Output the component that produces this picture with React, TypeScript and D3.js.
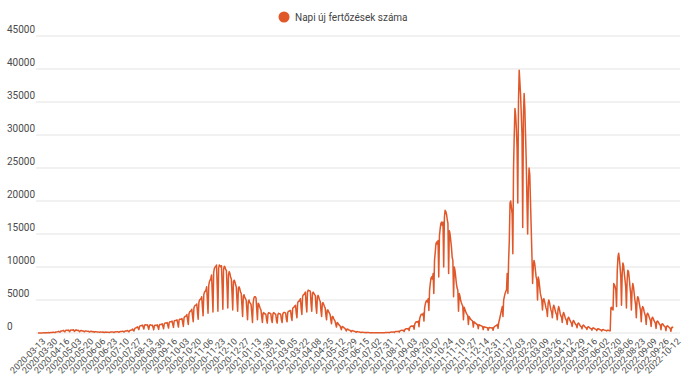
import * as d3 from 'd3';

// napi új fertőzések, 2020-03-13 -> 2020-12-31
const cases2020 = [
  3, 7, 5, 9, 11, 15, 18,
  22, 30, 23, 12, 36, 40, 38,
  45, 60, 35, 40, 70, 78, 70,
  100, 110, 80, 60, 140, 160, 170,
  200, 250, 180, 120, 260, 300, 320,
  350, 400, 250, 180, 380, 420, 400,
  380, 450, 300, 200, 420, 470, 430,
  450, 500, 320, 250, 420, 480, 400,
  380, 420, 300, 200, 350, 380, 340,
  300, 320, 250, 180, 300, 320, 280,
  250, 270, 200, 150, 240, 260, 230,
  200, 220, 170, 120, 190, 210, 180,
  160, 170, 130, 100, 150, 160, 140,
  130, 140, 110, 80, 130, 140, 120,
  120, 130, 100, 80, 130, 150, 140,
  150, 170, 120, 90, 160, 180, 170,
  190, 210, 150, 110, 200, 230, 220,
  250, 280, 200, 140, 270, 300, 290,
  330, 380, 260, 180, 370, 420, 410,
  500, 600, 400, 300, 650, 750, 780,
  850, 950, 700, 500, 1000, 1100, 1100,
  1150, 1200, 900, 600, 1200, 1250, 1200,
  1200, 1250, 900, 550, 1150, 1250, 1200,
  1150, 1200, 850, 500, 1100, 1200, 1150,
  1150, 1250, 900, 550, 1200, 1300, 1300,
  1300, 1400, 1000, 650, 1400, 1500, 1500,
  1500, 1600, 1150, 750, 1600, 1700, 1700,
  1700, 1800, 1300, 850, 1800, 1900, 1900,
  1900, 2000, 1500, 900, 2000, 2100, 2100,
  2100, 2200, 1600, 1000, 2300, 2500, 2500,
  2600, 2800, 2000, 1300, 2900, 3200, 3300,
  3400, 3600, 2600, 1700, 3800, 4100, 4200,
  4200, 4400, 3200, 2100, 4600, 5000, 5100,
  5200, 5500, 4000, 2600, 5800, 6200, 6300,
  6500, 7000, 5000, 3000, 7200, 7800, 8000,
  8300, 8800, 6000, 3200, 9200, 9800, 10000,
  10100, 10300, 7000, 3300, 9800, 10300, 10200,
  10000, 10200, 7200, 3600, 9700, 10100, 10000,
  9600, 9500, 6800, 3800, 8800, 9300, 9000,
  8500, 8200, 6000, 3500, 7800, 8000, 7800,
  7300, 7000, 5000, 3300, 6800, 7000, 6700,
  6200, 6000, 4200, 2500, 5600, 5800, 5400,
];

// 2021 (a nyári hiányzó napok nélkül)
const cases2021 = [
  5200, 5000, 3500, 2000, 4700, 5000, 4600,
  4500, 4300, 3000, 1600, 4600, 5300, 5500,
  5500, 5300, 3600, 2000, 4500, 4400, 4000,
  3700, 3500, 2500, 1600, 3000, 3100, 2900,
  2900, 2800, 2000, 1500, 2900, 3100, 3000,
  3000, 2900, 2000, 1600, 2900, 3100, 3000,
  2900, 2800, 1900, 1500, 2800, 3000, 2900,
  2900, 2800, 2000, 1600, 2900, 3100, 3100,
  3100, 3000, 2100, 1700, 3100, 3300, 3300,
  3400, 3400, 2400, 1900, 3700, 3900, 3900,
  4100, 4200, 3000, 2300, 4500, 4800, 4800,
  5000, 5200, 3700, 2800, 5500, 5800, 5800,
  6000, 6200, 4300, 3200, 6200, 6500, 6400,
  6400, 6300, 4400, 3300, 6000, 6200, 6000,
  5800, 5700, 4000, 3000, 5500, 5700, 5400,
  5000, 4800, 3400, 2500, 4500, 4600, 4300,
  4000, 3800, 2700, 2000, 3500, 3500, 3200,
  3000, 2800, 2000, 1400, 2500, 2500, 2200,
  2000, 1800, 1300, 900, 1600, 1500, 1300,
  1200, 1100, 800, 500, 1000, 950, 850,
  750, 700, 500, 300, 600, 580, 500,
  450, 420, 300, 180, 380, 350, 300,
  280, 250, 180, 100, 220, 200, 170,
  150, 140, 100, 60, 130, 120, 100,
  90, 80, 60, 40, 80, 75, 70,
  60, 55, 40, 25, 55, 50, 50,
  45, 20, 40, 45, 40, 38, 35,
  35, 18, 40, 45, 50, 48, 45,
  50, 25, 60, 70, 80, 80, 75,
  90, 45, 110, 130, 140, 140, 130,
  160, 80, 190, 220, 240, 240, 230,
  260, 130, 320, 370, 400, 400, 380,
  430, 220, 530, 600, 650, 650, 620,
  700, 360, 850, 980, 1050, 1050, 1000,
  1100, 580, 1350, 1550, 1700, 1700, 1650,
  1800, 950, 2200, 2550, 2800, 2850, 2750,
  3000, 1800, 3800, 4400, 4800, 4900, 4700,
  5200, 3400, 6500, 7500, 8300, 8500, 8200,
  9000, 6000, 11000, 12200, 13500, 13800, 13500,
  14000, 8500, 14800, 15800, 16600, 16800, 16300,
  16800, 10000, 17500, 18600, 18400, 18000, 17200,
  16600, 9000, 15500, 15000, 14000, 13000, 11500,
  11000, 5500, 10000, 9500, 8500, 7500, 6800,
  6500, 3300, 6000, 5600, 5000, 4600, 4300,
  4100, 2000, 3900, 3600, 3300, 3000, 2800,
  2700, 1300, 2500, 2300, 2100, 2000, 1900,
  1800, 900, 1700, 1600, 1500, 1400, 1300,
  1300, 650, 1250, 1200, 1150, 1100, 1050,
  1000, 500, 950, 900, 880, 850, 820,
  800, 400, 800, 820, 800, 780, 760,
  780, 420, 850,
];

// 2022 -> 2022-10-12
const cases2022 = [
  950, 1050, 1100, 1150,
  1300, 700, 1600, 2000, 2500, 3000, 3500,
  4000, 2500, 5000, 5500, 6000, 6300, 6500,
  9000, 6000, 11000, 14000, 19700, 20000, 19000,
  18000, 12000, 25000, 30000, 34000, 33000, 31000,
  28000, 19700, 35000, 39800, 38000, 36000, 33000,
  30000, 16000, 33000, 36300, 34000, 30000, 26000,
  20000, 15000, 22000, 25000, 24000, 20000, 16000,
  12000, 7500, 10000, 11000, 10500, 9500, 8500,
  8000, 5000, 8500, 8000, 7000, 6000, 5500,
  5000, 3500, 5000, 5200, 4800, 4300, 3800,
  3500, 2500, 4500, 5000, 4600, 4000, 3500,
  3200, 2300, 3800, 4200, 3900, 3400, 3000,
  2800, 2000, 3500, 4000, 3600, 3000, 2600,
  2400, 1600, 2800, 3100, 2800, 2400, 2100,
  1900, 1300, 2200, 2400, 2200, 1900, 1700,
  1500, 1000, 1700, 1900, 1700, 1500, 1300,
  1200, 800, 1400, 1500, 1400, 1200, 1000,
  950, 650, 1100, 1200, 1100, 950, 850,
  780, 520, 900, 950, 880, 780, 700,
  650, 420, 720, 780, 720, 640, 580,
  540, 350, 600, 640, 600, 530, 480,
  450, 300, 500, 520, 480, 430, 400,
  380, 300, 420, 400, 380, 350, 330,
  3800, 3900, 3600, 3500, 7500, 7300, 7000,
  6500, 4000, 9500, 11500, 12100, 11200, 10000,
  8500, 4200, 9000, 10600, 10200, 9000, 8000,
  7000, 3800, 8000, 9500, 9300, 8300, 7000,
  6000, 3500, 6500, 7500, 7000, 6000, 5000,
  4300, 2300, 4800, 5500, 5300, 4600, 4000,
  3400, 1700, 3600, 4000, 3800, 3300, 2900,
  2500, 1300, 2800, 3000, 2800, 2500, 2200,
  1900, 1000, 2200, 2400, 2200, 1900, 1700,
  1500, 700, 1700, 1800, 1700, 1500, 1300,
  1200, 500, 1300, 1400, 1300, 1100, 1000,
  900, 350, 1000, 1100, 1000, 900, 800,
  700, 250, 800, 900, 750,
];

const tickLabels = [
  '2020-03-13', '2020-03-30', '2020-04-16', '2020-05-03', '2020-05-20', '2020-06-06',
  '2020-06-23', '2020-07-10', '2020-07-27', '2020-08-13', '2020-08-30', '2020-09-16',
  '2020-10-03', '2020-10-20', '2020-11-06', '2020-11-23', '2020-12-10', '2020-12-27',
  '2021-01-13', '2021-01-30', '2021-02-16', '2021-03-05', '2021-03-22', '2021-04-08',
  '2021-04-25', '2021-05-12', '2021-05-29', '2021-06-15', '2021-07-02', '2021-07-31',
  '2021-08-17', '2021-09-03', '2021-09-20', '2021-10-07', '2021-10-24', '2021-11-10',
  '2021-11-27', '2021-12-14', '2021-12-31', '2022-01-17', '2022-02-03', '2022-02-20',
  '2022-03-09', '2022-03-26', '2022-04-12', '2022-04-29', '2022-05-16', '2022-06-02',
  '2022-07-20', '2022-08-06', '2022-08-23', '2022-09-09', '2022-09-26', '2022-10-12',
];

const yTicks = [0, 5000, 10000, 15000, 20000, 25000, 30000, 35000, 40000, 45000];

const seriesName = 'Napi új fertőzések száma';
const LABEL_STEP = 17;

const dailyCases = [...cases2020, ...cases2021, ...cases2022];

export default function App() {
  const width = 685;
  const height = 385;
  const color = '#e0582a';
  const font = 'Roboto, Arial, sans-serif';

  const x = d3.scaleLinear().domain([0, dailyCases.length - 1]).range([38, 673]);
  const y = d3.scaleLinear().domain([0, 45000]).range([333, 36]);

  const line = d3
    .line<number>()
    .x((_, i) => x(i))
    .y((d) => y(d));

  // minden 17. kategória kap címkét, az utolsó az utolsó nap
  const tickIdx = tickLabels.map((_, k) =>
    k === tickLabels.length - 1 ? dailyCases.length - 1 : k * LABEL_STEP
  );

  return (
    <svg
      width={width}
      height={height}
      style={{ position: 'absolute', left: 0, top: 0, background: '#fff' }}
    >
      {/* Legend */}
      <circle cx={284} cy={17} r={5.5} fill={color} />
      <text x={295} y={20.5} fontFamily={font} fontSize={10} fill="#444">
        {seriesName}
      </text>

      {/* Grid + y labels */}
      {yTicks.map((t) => (
        <g key={t}>
          <line x1={36} x2={680} y1={y(t)} y2={y(t)} stroke="#e3e3e3" strokeWidth={1} />
          <text x={7} y={y(t) - 3} fontFamily={font} fontSize={10} fill="#4a4a4a">
            {t}
          </text>
        </g>
      ))}

      {/* Series */}
      <path
        d={line(dailyCases) || ''}
        fill="none"
        stroke={color}
        strokeWidth={1.5}
        strokeLinejoin="round"
      />

      {/* X labels */}
      {tickLabels.map((lab, k) => {
        const tx = x(tickIdx[k]) + 8;
        const ty = 342;
        return (
          <text
            key={lab}
            x={tx}
            y={ty}
            transform={`rotate(-45, ${tx}, ${ty})`}
            textAnchor="end"
            fontFamily={font}
            fontSize={9}
            fill="#4a4a4a"
          >
            {lab}
          </text>
        );
      })}
    </svg>
  );
}
